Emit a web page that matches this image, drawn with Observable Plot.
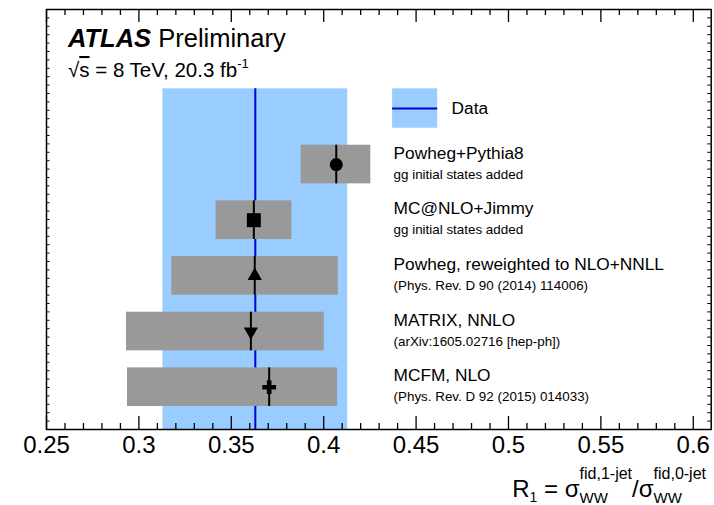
<!DOCTYPE html>
<html><head><meta charset="utf-8">
<script src="https://cdn.jsdelivr.net/npm/d3@7"></script>
<script src="https://cdn.jsdelivr.net/npm/@observablehq/plot@0.6"></script>
<style>html,body{margin:0;padding:0;background:#fff;} svg{display:block}</style>
</head><body><div id="chart"></div>
<script>
// ---- data ----
const models = ["Powheg+Pythia8", "MC@NLO+Jimmy", "Powheg, reweighted to NLO+NNLL", "MATRIX, NNLO", "MCFM, NLO"];
const notes = ["gg initial states added", "gg initial states added", "(Phys. Rev. D 90 (2014) 114006)", "(arXiv:1605.02716 [hep-ph])", "(Phys. Rev. D 92 (2015) 014033)"];
const central = [0.4068, 0.3622, 0.3627, 0.3606, 0.3705];
const low = [0.3878, 0.3418, 0.3178, 0.2933, 0.2938];
const high = [0.4255, 0.3828, 0.4079, 0.4003, 0.4075];
const markers = ["circle", "square", "triangle", "triangleDown", "cross"];
const rowPos = [5, 4, 3, 2, 1];
const dataValue = 0.363;
const dataLow = 0.313;
const dataHigh = 0.413;
const tickValues = [0.25, 0.3, 0.35, 0.4, 0.45, 0.5, 0.55, 0.6];
const tickLabels = ["0.25", "0.3", "0.35", "0.4", "0.45", "0.5", "0.55", "0.6"];

// ---- layout ----
const W = 714, H = 505;
const xMin = 0.25, xMax = 0.6097, yMin = 0.24, yMax = 7.785;
const pxX = (W - 46 - 3.3) / (xMax - xMin);
const pxY = (H - 9 - 76) / (yMax - yMin);
const halfH = 0.347;
const bandTop = 6.36;
const legX1 = 0.4373, legX2 = 0.4617, legY1 = 5.652, legY2 = 6.36, legLine = 6.006;
const labelX = 0.4378;

const triangleDown = {draw(ctx, size) {
  const y = Math.sqrt(size / (Math.sqrt(3) * 3));
  ctx.moveTo(0, 2 * y); ctx.lineTo(-Math.sqrt(3) * y, -y); ctx.lineTo(Math.sqrt(3) * y, -y); ctx.closePath();
}};
const symbolMap = {circle: d3.symbolCircle, square: d3.symbolSquare, triangle: d3.symbolTriangle, triangleDown: triangleDown, cross: d3.symbolCross};
const sizeMap = {circle: 6.5, square: 7.9, triangle: 5.3, triangleDown: 5.3, cross: 5.8};

const rows = models.map((m, i) => ({model: m, note: notes[i], c: central[i], lo: low[i], hi: high[i],
  sym: symbolMap[markers[i]], r: sizeMap[markers[i]], pos: rowPos[i]}));

const minorX = d3.range(0, 37).map(i => +(0.25 + i * 0.01).toFixed(3)).filter(v => v <= xMax);
const yTicks = d3.range(1, 50).map(i => yMin + i * (yMax - yMin) / 50);

const xMajLen = 13 / pxY, xMinLen = 6 / pxY;
const yLen = 3.5 / pxX;
const isMajor = d => tickValues.some(t => Math.abs(t - d) < 1e-6);

const plot = Plot.plot({
  width: W, height: H,
  marginTop: 9, marginBottom: 76, marginLeft: 46, marginRight: 3.3,
  x: {domain: [xMin, xMax], axis: null},
  y: {domain: [yMin, yMax], axis: null},
  r: {type: "identity"},
  style: {fontFamily: "'Liberation Sans', Arial, Helvetica, sans-serif", fontSize: "17px", background: "white", color: "black"},
  marks: [
    Plot.rect([0], {x1: dataLow, x2: dataHigh, y1: yMin, y2: bandTop, fill: "#99ccff"}),
    Plot.ruleX([dataValue], {x: d => d, y1: yMin, y2: bandTop, stroke: "#0000dd", strokeWidth: 2}),
    Plot.rect([0], {x1: legX1, x2: legX2, y1: legY1, y2: legY2, fill: "#99ccff"}),
    Plot.ruleY([legLine], {y: d => d, x1: legX1, x2: legX2, stroke: "#0000dd", strokeWidth: 2}),
    Plot.text(["Data"], {x: 0.4692, y: legLine, text: d => d, textAnchor: "start", lineAnchor: "middle", fontSize: 17.3}),
    Plot.rect(rows, {x1: "lo", x2: "hi", y1: d => d.pos - halfH, y2: d => d.pos + halfH, fill: "#999999"}),
    Plot.ruleX(rows, {x: "c", y1: d => d.pos - halfH, y2: d => d.pos + halfH, stroke: "black", strokeWidth: 2}),
    Plot.dot(rows, {x: "c", y: "pos", symbol: "sym", r: "r", fill: "black", stroke: "none"}),
    Plot.text(rows, {x: labelX, y: "pos", text: "model", textAnchor: "start", lineAnchor: "bottom", dy: -5.7, fontSize: 17.3}),
    Plot.text(rows, {x: labelX, y: "pos", text: "note", textAnchor: "start", lineAnchor: "bottom", dy: 14.3, fontSize: 13.4}),
    // x ticks bottom & top
    Plot.ruleX(minorX, {x: d => d, y1: yMin, y2: d => yMin + (isMajor(d) ? xMajLen : xMinLen), stroke: "black", strokeWidth: 1.3}),
    Plot.ruleX(minorX, {x: d => d, y1: d => yMax - (isMajor(d) ? xMajLen : xMinLen), y2: yMax, stroke: "black", strokeWidth: 1.3}),
    // y ticks left & right
    Plot.ruleY(yTicks, {y: d => d, x1: xMin, x2: xMin + yLen, stroke: "black", strokeWidth: 1}),
    Plot.ruleY(yTicks, {y: d => d, x1: xMax - yLen, x2: xMax, stroke: "black", strokeWidth: 1}),
    Plot.frame({stroke: "black", strokeWidth: 1.5}),
    Plot.axisX({ticks: tickValues, tickFormat: d => tickLabels[tickValues.findIndex(t => Math.abs(t - d) < 1e-9)], tickSize: 0, tickPadding: 6, fontSize: 24, label: null})
  ]
});
document.getElementById("chart").appendChild(plot);

const svg = d3.select(plot.tagName.toLowerCase() === "svg" ? plot : plot.querySelector("svg"));
const ff = "'Liberation Sans', Arial, Helvetica, sans-serif";

// ATLAS label
const t1 = svg.append("text").attr("x", 68).attr("y", 47).attr("font-size", 25.5).attr("font-family", ff)
  .attr("fill", "black").attr("text-anchor", "start");
t1.append("tspan").attr("font-weight", "bold").attr("font-style", "italic").text("ATLAS");
t1.append("tspan").text(" Preliminary");

const t2 = svg.append("text").attr("x", 68).attr("y", 77).attr("font-size", 20.5).attr("font-family", ff)
  .attr("fill", "black").attr("text-anchor", "start");
t2.append("tspan").text("√");
t2.append("tspan").attr("style", "text-decoration: overline").text("s");
t2.append("tspan").text(" = 8 TeV, 20.3 fb");
t2.append("tspan").attr("font-size", 13).attr("dy", -9).text("-1");

// axis title: R1 = σ^{fid,1-jet}_{WW} / σ^{fid,0-jet}_{WW}
const g = svg.append("g").attr("font-family", ff).attr("fill", "black").attr("text-anchor", "start");
let cx = 0;
function put(str, size, dy) {
  const t = g.append("text").attr("x", cx).attr("y", dy).attr("font-size", size).attr("text-anchor", "start").text(str);
  return t.node().getComputedTextLength();
}
cx += put("R", 24, 0);
cx += put("1", 14, 5);
cx += put(" = σ", 24, 0);
{ const a = put("fid,1-jet", 16, -18); const b = put("WW", 15, 6); cx += Math.max(a, b); }
cx += put("/σ", 24, 0);
{ const a = put("fid,0-jet", 16, -18); const b = put("WW", 15, 6); cx += Math.max(a, b); }
g.attr("transform", `translate(${706 - cx},497)`);
</script>
</body></html>
